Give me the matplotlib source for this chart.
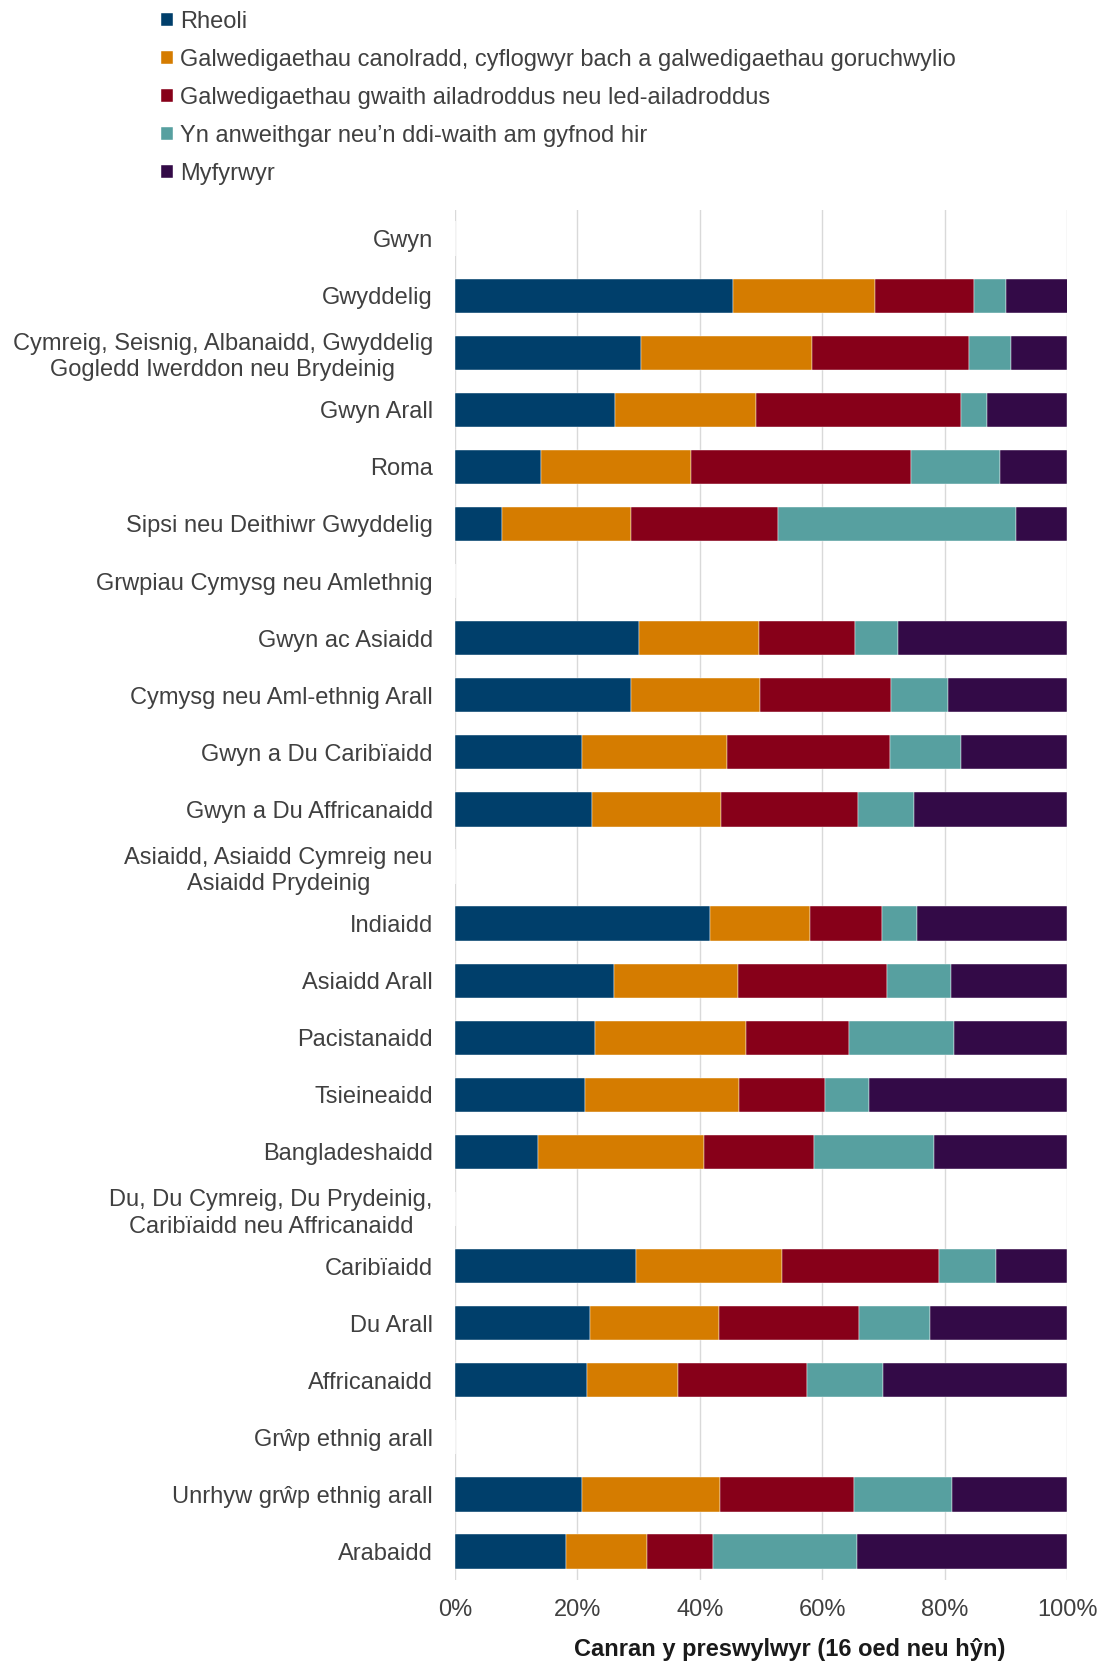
import numpy as np
import matplotlib
matplotlib.use('Agg')
import matplotlib.pyplot as plt

plt.rcParams['font.family'] = ['Liberation Sans', 'DejaVu Sans']

# Categorïau (rhesi pennawd heb farrau = 0)
categories = [
    'Gwyn',
    'Gwyddelig',
    'Cymreig, Seisnig, Albanaidd, Gwyddelig\nGogledd Iwerddon neu Brydeinig',
    'Gwyn Arall',
    'Roma',
    'Sipsi neu Deithiwr Gwyddelig',
    'Grwpiau Cymysg neu Amlethnig',
    'Gwyn ac Asiaidd',
    'Cymysg neu Aml-ethnig Arall',
    'Gwyn a Du Caribïaidd',
    'Gwyn a Du Affricanaidd',
    'Asiaidd, Asiaidd Cymreig neu\nAsiaidd Prydeinig',
    'Indiaidd',
    'Asiaidd Arall',
    'Pacistanaidd',
    'Tsieineaidd',
    'Bangladeshaidd',
    'Du, Du Cymreig, Du Prydeinig,\nCaribïaidd neu Affricanaidd',
    'Caribïaidd',
    'Du Arall',
    'Affricanaidd',
    'Grŵp ethnig arall',
    'Unrhyw grŵp ethnig arall',
    'Arabaidd',
]

series_names = [
    'Rheoli',
    'Galwedigaethau canolradd, cyflogwyr bach a galwedigaethau goruchwylio',
    'Galwedigaethau gwaith ailadroddus neu led-ailadroddus',
    'Yn anweithgar neu\u2019n ddi-waith am gyfnod hir',
    'Myfyrwyr',
]

# gwerthoedd (%) - 0 ar gyfer rhesi pennawd
rheoli = [0, 45.4, 30.4, 26.1, 14.0, 7.7, 0, 30.1, 28.7, 20.7, 22.4, 0,
          41.7, 25.9, 22.8, 21.3, 13.6, 0, 29.5, 22.1, 21.5, 0, 20.7, 18.2]
canolradd = [0, 23.2, 27.9, 23.1, 24.5, 21.1, 0, 19.5, 21.2, 23.7, 21.0, 0,
             16.3, 20.4, 24.7, 25.1, 27.0, 0, 24.0, 21.0, 15.0, 0, 22.6, 13.2]
ailadroddus = [0, 16.2, 25.7, 33.5, 36.0, 23.9, 0, 15.8, 21.4, 26.6, 22.4, 0,
               11.7, 24.3, 16.8, 14.0, 18.1, 0, 25.5, 22.9, 21.0, 0, 21.9, 10.8]
anweithgar = [0, 5.3, 6.9, 4.2, 14.6, 39.0, 0, 7.0, 9.3, 11.7, 9.2, 0,
              5.8, 10.5, 17.2, 7.2, 19.6, 0, 9.4, 11.6, 12.4, 0, 16.0, 23.5]
myfyrwyr = [0, 10.0, 9.1, 13.1, 10.9, 8.3, 0, 27.6, 19.4, 17.3, 25.0, 0,
            24.5, 18.9, 18.5, 32.4, 21.7, 0, 11.6, 22.4, 30.1, 0, 18.8, 34.3]

colours = ['#003f6b', '#d57c00', '#870019', '#57a0a0', '#330a47']

fig = plt.figure(figsize=(11.01, 16.63), dpi=100)
ax = fig.add_axes([0.4133, 0.0499, 0.5559, 0.8238])

y = np.arange(len(categories))
left = np.zeros(len(categories))
handles = []
for vals, name, col in zip([rheoli, canolradd, ailadroddus, anweithgar, myfyrwyr],
                           series_names, colours):
    vals = np.array(vals)
    b = ax.barh(y, vals, left=left, height=0.6, color=col, label=name,
                edgecolor='white', linewidth=0.3, zorder=3)
    handles.append(b)
    left += vals

ax.set_ylim(len(categories) - 0.5, -0.5)
ax.set_xlim(0, 100)
ax.set_yticks(y)
ax.set_yticklabels(categories, fontsize=17, color='#404040', multialignment='center',
                   linespacing=1.25)
ax.set_xticks(np.arange(0, 101, 20))
ax.set_xticklabels([f'{v}%' for v in range(0, 101, 20)], fontsize=17, color='#404040')
ax.tick_params(axis='y', length=0, pad=16)
ax.tick_params(axis='x', length=0, pad=14)
ax.grid(axis='x', color='#d9d9d9', linewidth=1, zorder=0)
for s in ax.spines.values():
    s.set_visible(False)

ax.set_xlabel('Canran y preswylwyr (16 oed neu hŷn)', fontsize=17, fontweight='bold',
              color='#1a1a1a')
ax.xaxis.set_label_coords(0.547, -0.0425)

fig.legend(handles=handles, loc='upper left', bbox_to_anchor=(0.137, 1.0),
           frameon=False, fontsize=17, handlelength=0.5, handleheight=0.5,
           handletextpad=0.3, labelspacing=0.68, labelcolor='#404040',
           borderaxespad=0.05)

fig.savefig('out.png', dpi=100)
